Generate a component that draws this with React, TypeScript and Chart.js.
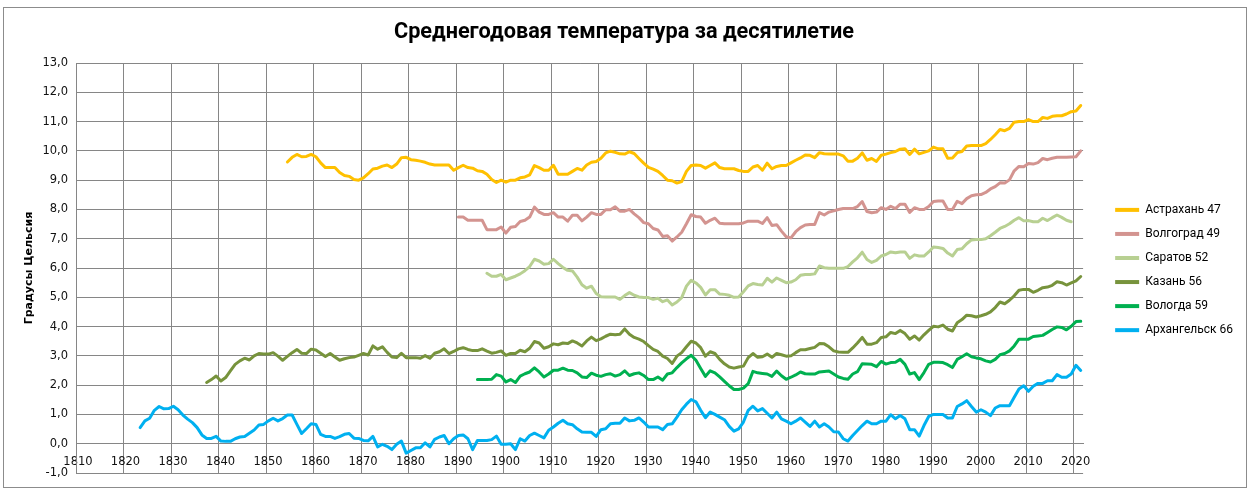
import { useEffect, useRef } from 'react';
import { Chart, registerables } from 'chart.js';

Chart.register(...registerables);

const TITLE = 'Среднегодовая температура за десятилетие';
const Y_TITLE = 'Градусы Цельсия';
const X_TICKS = [1810, 1820, 1830, 1840, 1850, 1860, 1870, 1880, 1890, 1900, 1910, 1920, 1930, 1940, 1950, 1960, 1970, 1980, 1990, 2000, 2010, 2020];

const NAMES = ['Астрахань 47', 'Волгоград 49', 'Саратов 52', 'Казань 56', 'Вологда 59', 'Архангельск 66'];
const COLORS = ['#FFC000', '#D39490', '#B8D092', '#77933C', '#00B050', '#00B0F0'];

const ASTRAKHAN_START = 1854;
const ASTRAKHAN = [
  9.62, 9.78, 9.88, 9.8, 9.81, 9.88,
  9.8, 9.59, 9.43, 9.43, 9.43, 9.26, 9.16, 9.13, 9.02, 9.0,
  9.08, 9.22, 9.38, 9.41, 9.48, 9.52, 9.43, 9.55, 9.77, 9.78,
  9.7, 9.68, 9.65, 9.61, 9.55, 9.52, 9.52, 9.52, 9.52, 9.34,
  9.43, 9.51, 9.43, 9.41, 9.32, 9.3, 9.2, 9.02, 8.92, 9.0,
  8.93, 9.0, 9.0, 9.08, 9.11, 9.18, 9.5, 9.43, 9.34, 9.34,
  9.51, 9.2, 9.2, 9.2, 9.3, 9.4, 9.34, 9.52, 9.61, 9.64,
  9.75, 9.93, 9.99, 9.95, 9.9, 9.89, 9.97, 9.91, 9.74, 9.58,
  9.44, 9.38, 9.3, 9.16, 9.0, 8.98, 8.9, 8.95, 9.3, 9.5,
  9.52, 9.5, 9.41, 9.5, 9.59, 9.43, 9.39, 9.39, 9.39, 9.33,
  9.3, 9.3, 9.45, 9.5, 9.34, 9.58, 9.39, 9.47, 9.5, 9.5,
  9.59, 9.68, 9.76, 9.86, 9.85, 9.77, 9.94, 9.9, 9.89, 9.89,
  9.89, 9.83, 9.65, 9.65, 9.75, 9.93, 9.68, 9.74, 9.64, 9.85,
  9.89, 9.94, 9.98, 10.06, 10.07, 9.88, 10.06, 9.9, 9.95, 10.0,
  10.13, 10.07, 10.07, 9.75, 9.76, 9.94, 9.98, 10.17, 10.18, 10.18,
  10.18, 10.25, 10.39, 10.55, 10.73, 10.69, 10.77, 10.98, 11.0, 11.0,
  11.07, 11.0, 11.0, 11.14, 11.11, 11.18, 11.2, 11.2, 11.26, 11.34,
  11.36, 11.55,
];

const VOLGOGRAD_START = 1890;
const VOLGOGRAD = [
  7.74, 7.74, 7.63, 7.63, 7.63, 7.63, 7.31, 7.31, 7.31, 7.4,
  7.19, 7.39, 7.42, 7.59, 7.63, 7.74, 8.08, 7.91, 7.83, 7.83,
  7.89, 7.74, 7.74, 7.6, 7.8, 7.8, 7.61, 7.74, 7.89, 7.83,
  7.83, 7.99, 7.99, 8.09, 7.94, 7.94, 8.0, 7.85, 7.72, 7.55,
  7.51, 7.35, 7.3, 7.08, 7.1, 6.92, 7.06, 7.22, 7.51, 7.82,
  7.76, 7.74, 7.53, 7.63, 7.7, 7.53, 7.51, 7.51, 7.51, 7.51,
  7.54, 7.6, 7.6, 7.6, 7.52, 7.72, 7.45, 7.48, 7.26, 7.07,
  7.03, 7.24, 7.38, 7.47, 7.49, 7.49, 7.89, 7.81, 7.91, 7.95,
  8.0, 8.03, 8.03, 8.03, 8.1, 8.27, 7.93, 7.89, 7.91, 8.06,
  8.0, 8.11, 8.03, 8.18, 8.18, 7.9, 8.06, 8.0, 8.0, 8.1,
  8.27, 8.29, 8.29, 8.0, 8.0, 8.28, 8.2, 8.37, 8.47, 8.5,
  8.51, 8.58, 8.7, 8.78, 8.91, 8.9, 9.01, 9.32, 9.47, 9.46,
  9.57, 9.55, 9.6, 9.74, 9.7, 9.75, 9.78, 9.78, 9.78, 9.79,
  9.8, 10.0,
];

const SARATOV_START = 1896;
const SARATOV = [
  5.82, 5.72, 5.72, 5.78,
  5.6, 5.66, 5.72, 5.8, 5.91, 6.05, 6.3, 6.24, 6.13, 6.15,
  6.3, 6.15, 6.02, 5.92, 5.9, 5.69, 5.43, 5.31, 5.38, 5.13,
  5.02, 5.01, 5.01, 5.01, 4.93, 5.06, 5.16, 5.07, 5.01, 4.99,
  4.99, 4.93, 4.97, 4.85, 4.91, 4.74, 4.84, 4.99, 5.38, 5.58,
  5.49, 5.34, 5.08, 5.26, 5.26, 5.11, 5.1, 5.07, 5.0, 5.01,
  5.19, 5.39, 5.47, 5.44, 5.42, 5.65, 5.52, 5.66, 5.58, 5.5,
  5.52, 5.6, 5.75, 5.78, 5.78, 5.8, 6.07, 6.01, 5.99, 5.99,
  5.99, 5.99, 6.05, 6.21, 6.35, 6.54, 6.29, 6.19, 6.26, 6.41,
  6.46, 6.55, 6.52, 6.55, 6.55, 6.33, 6.45, 6.41, 6.41, 6.55,
  6.72, 6.7, 6.67, 6.51, 6.41, 6.63, 6.66, 6.83, 6.96, 6.97,
  6.97, 7.0, 7.1, 7.22, 7.35, 7.42, 7.51, 7.63, 7.72, 7.61,
  7.62, 7.58, 7.58, 7.7, 7.62, 7.72, 7.81, 7.73, 7.63, 7.58,
];

const KAZAN_START = 1837;
const KAZAN = [
  2.09, 2.19, 2.31,
  2.14, 2.26, 2.49, 2.71, 2.83, 2.92, 2.86, 3.0, 3.08, 3.06,
  3.06, 3.11, 2.99, 2.85, 2.98, 3.11, 3.22, 3.09, 3.08, 3.23,
  3.2, 3.09, 2.98, 3.08, 2.96, 2.85, 2.9, 2.94, 2.96, 3.02,
  3.08, 3.03, 3.34, 3.23, 3.31, 3.12, 2.96, 2.94, 3.09, 2.94,
  2.94, 2.94, 2.92, 3.01, 2.92, 3.09, 3.14, 3.24, 3.08, 3.15,
  3.24, 3.28, 3.22, 3.18, 3.18, 3.24, 3.16, 3.09, 3.12, 3.17,
  3.02, 3.08, 3.08, 3.19, 3.14, 3.26, 3.49, 3.44, 3.26, 3.31,
  3.41, 3.38, 3.44, 3.42, 3.51, 3.44, 3.34, 3.51, 3.64, 3.52,
  3.58, 3.67, 3.74, 3.72, 3.74, 3.92, 3.74, 3.63, 3.57, 3.49,
  3.35, 3.22, 3.15, 2.99, 2.91, 2.74, 2.99, 3.11, 3.31, 3.5,
  3.44, 3.28, 2.99, 3.14, 3.08, 2.88, 2.73, 2.62, 2.58, 2.62,
  2.65, 2.94, 3.08, 2.95, 2.97, 3.06, 2.95, 3.08, 3.04, 2.99,
  3.0, 3.11, 3.21, 3.21, 3.25, 3.29, 3.42, 3.41, 3.31, 3.17,
  3.13, 3.12, 3.12, 3.27, 3.44, 3.63, 3.4, 3.4, 3.45, 3.63,
  3.65, 3.8, 3.76, 3.87, 3.76, 3.57, 3.68, 3.54, 3.72, 3.87,
  4.01, 3.99, 4.05, 3.91, 3.85, 4.13, 4.24, 4.39, 4.37, 4.33,
  4.37, 4.42, 4.5, 4.65, 4.84, 4.78, 4.9, 5.05, 5.24, 5.27,
  5.27, 5.17, 5.24, 5.33, 5.35, 5.41, 5.53, 5.5, 5.42, 5.49,
  5.56, 5.71,
];

const VOLOGDA_START = 1894;
const VOLOGDA = [
  2.19, 2.19, 2.19, 2.2, 2.36, 2.31,
  2.11, 2.19, 2.09, 2.31, 2.39, 2.45, 2.59, 2.45, 2.28, 2.38,
  2.51, 2.51, 2.58, 2.51, 2.5, 2.42, 2.28, 2.26, 2.41, 2.34,
  2.3, 2.36, 2.39, 2.31, 2.36, 2.49, 2.33, 2.39, 2.42, 2.33,
  2.19, 2.19, 2.28, 2.17, 2.38, 2.42, 2.6, 2.76, 2.9, 3.02,
  2.85, 2.57, 2.3, 2.49, 2.42, 2.28, 2.13, 1.98, 1.85, 1.85,
  1.9, 2.05, 2.47, 2.42, 2.4, 2.38, 2.3, 2.48, 2.32, 2.2,
  2.27, 2.35, 2.45, 2.39, 2.38, 2.38, 2.45, 2.47, 2.48, 2.38,
  2.28, 2.23, 2.2, 2.38, 2.46, 2.73, 2.72, 2.71, 2.63, 2.81,
  2.72, 2.77, 2.78, 2.88, 2.71, 2.38, 2.43, 2.19, 2.43, 2.71,
  2.78, 2.78, 2.77, 2.7, 2.6, 2.88, 2.97, 3.07, 2.97, 2.93,
  2.9, 2.83, 2.79, 2.88, 3.04, 3.08, 3.17, 3.34, 3.57, 3.57,
  3.57, 3.66, 3.68, 3.7, 3.8, 3.9, 3.99, 3.97, 3.89, 4.01,
  4.17, 4.18,
];

const ARKHANGELSK_START = 1823;
const ARKHANGELSK = [
  0.55, 0.78, 0.87, 1.14, 1.27, 1.19, 1.2,
  1.28, 1.16, 0.98, 0.84, 0.72, 0.55, 0.3, 0.18, 0.18, 0.25,
  0.09, 0.08, 0.08, 0.17, 0.23, 0.25, 0.36, 0.47, 0.64, 0.66,
  0.78, 0.87, 0.78, 0.86, 0.98, 0.98, 0.66, 0.35, 0.51, 0.68,
  0.66, 0.32, 0.25, 0.25, 0.18, 0.24, 0.32, 0.35, 0.19, 0.18,
  0.11, 0.1, 0.25, -0.11, -0.02, -0.09, -0.2, -0.02, 0.09, -0.32,
  -0.23, -0.14, -0.14, 0.03, -0.11, 0.15, 0.23, 0.28, 0.0, 0.17,
  0.28, 0.3, 0.17, -0.2, 0.11, 0.11, 0.11, 0.14, 0.26, -0.02,
  -0.02, 0.0, -0.2, 0.17, 0.09, 0.28, 0.36, 0.28, 0.2, 0.46,
  0.57, 0.7, 0.8, 0.68, 0.65, 0.51, 0.4, 0.39, 0.39, 0.25,
  0.48, 0.51, 0.68, 0.7, 0.7, 0.88, 0.78, 0.8, 0.88, 0.74,
  0.57, 0.57, 0.57, 0.48, 0.66, 0.68, 0.91, 1.16, 1.35, 1.51,
  1.43, 1.14, 0.89, 1.08, 1.0, 0.91, 0.82, 0.59, 0.43, 0.51,
  0.74, 1.14, 1.28, 1.12, 1.2, 1.04, 0.88, 1.08, 0.85, 0.77,
  0.68, 0.77, 0.88, 0.74, 0.59, 0.77, 0.57, 0.68, 0.57, 0.41,
  0.4, 0.17, 0.09, 0.28, 0.45, 0.62, 0.77, 0.68, 0.68, 0.77,
  0.77, 0.99, 0.85, 0.96, 0.85, 0.48, 0.48, 0.26, 0.62, 0.93,
  1.0, 1.0, 1.0, 0.88, 0.88, 1.27, 1.36, 1.47, 1.27, 1.08,
  1.16, 1.08, 0.96, 1.22, 1.3, 1.3, 1.3, 1.59, 1.87, 1.98,
  1.79, 1.96, 2.06, 2.06, 2.15, 2.15, 2.36, 2.27, 2.27, 2.38,
  2.68, 2.5,
];

const SERIES: [number, number[]][] = [
  [ASTRAKHAN_START, ASTRAKHAN],
  [VOLGOGRAD_START, VOLGOGRAD],
  [SARATOV_START, SARATOV],
  [KAZAN_START, KAZAN],
  [VOLOGDA_START, VOLOGDA],
  [ARKHANGELSK_START, ARKHANGELSK],
];

const GRID = '#868686';
const TICK_FONT = { family: 'DejaVu Sans', size: 11.5 };

export default function App() {
  const ref = useRef<HTMLCanvasElement>(null);

  useEffect(() => {
    const canvas = ref.current;
    if (!canvas) return;
    const datasets = SERIES.map(([start, vals], i) => ({
      label: NAMES[i],
      data: vals.map((v, k) => ({ x: start + k, y: v })),
      borderColor: COLORS[i],
      backgroundColor: COLORS[i],
      borderWidth: 3,
      pointRadius: 0,
      pointHoverRadius: 0,
      tension: 0,
      fill: false,
      borderJoinStyle: 'round' as const,
      borderCapStyle: 'round' as const,
    }));

    const chart = new Chart(canvas, {
      type: 'line',
      data: { datasets },
      options: {
        responsive: false,
        animation: false,
        events: [],
        layout: { padding: { left: 1, right: 3, top: 0, bottom: 14 } },
        plugins: {
          title: {
            display: true,
            text: TITLE,
            color: '#000',
            font: { family: 'Roboto', size: 21.7, weight: 'bold' },
            padding: { top: 12, bottom: 17 },
          },
          legend: {
            position: 'right',
            fullSize: false,
            title: {
              display: true,
              text: '',
              font: { size: 1 },
              padding: { top: 2.8, bottom: 0 },
            },
            labels: {
              boxWidth: 24,
              boxHeight: 4,
              padding: 12.05,
              color: '#000',
              font: { family: 'Roboto', size: 12 },
              generateLabels: (c: any) =>
                Chart.defaults.plugins.legend.labels
                  .generateLabels(c)
                  .map((l: any) => ({ ...l, lineWidth: 0 })),
            },
          },
          tooltip: { enabled: false },
        },
        scales: {
          x: {
            type: 'linear',
            min: X_TICKS[0] - 0.5,
            max: X_TICKS[X_TICKS.length - 1] + 1.5,
            position: { y: 0 } as any,
            afterBuildTicks: (axis: any) => {
              axis.ticks = X_TICKS.map((t) => ({ value: t - 0.5 }));
            },
            afterFit: (s: any) => {
              s.paddingLeft = 0;
              s.paddingRight = 0;
            },
            ticks: {
              autoSkip: false,
              maxRotation: 0,
              padding: 11,
              labelOffset: 2,
              color: '#111',
              font: TICK_FONT,
              callback: (v: any) => String(Math.round(Number(v) + 0.5)),
            },
            grid: { color: GRID, drawTicks: false },
            border: { color: GRID },
          },
          y: {
            min: -1,
            max: 13,
            afterFit: (s: any) => {
              s.width = 71;
              s.paddingTop = 0;
              s.paddingBottom = 0;
            },
            ticks: {
              stepSize: 1,
              padding: 8,
              color: '#111',
              font: TICK_FONT,
              callback: (v: any) => Number(v).toFixed(1).replace('.', ','),
            },
            grid: { color: GRID, drawTicks: false },
            border: { color: GRID },
            title: {
              display: true,
              text: Y_TITLE,
              color: '#000',
              font: { family: 'DejaVu Sans', size: 11, weight: 'bold' },
              padding: { top: 17.9, bottom: 0 },
            },
          },
          y2: {
            position: 'right',
            display: true,
            grid: { display: false },
            ticks: { display: false },
            border: { display: false },
            afterFit: (s: any) => {
              s.width = 20;
            },
          },
        },
      },
    });
    return () => chart.destroy();
  }, []);

  return (
    <div
      style={{
        position: 'absolute',
        left: 0,
        top: 0,
        width: 1250,
        height: 493,
        background: '#fff',
        overflow: 'hidden',
      }}
    >
      <div
        style={{
          position: 'absolute',
          left: 3,
          top: 7,
          width: 1242,
          height: 479,
          border: '1px solid #8c8c8c',
          background: '#fff',
        }}
      >
        <canvas ref={ref} width={1242} height={479} style={{ display: 'block' }} />
      </div>
    </div>
  );
}
